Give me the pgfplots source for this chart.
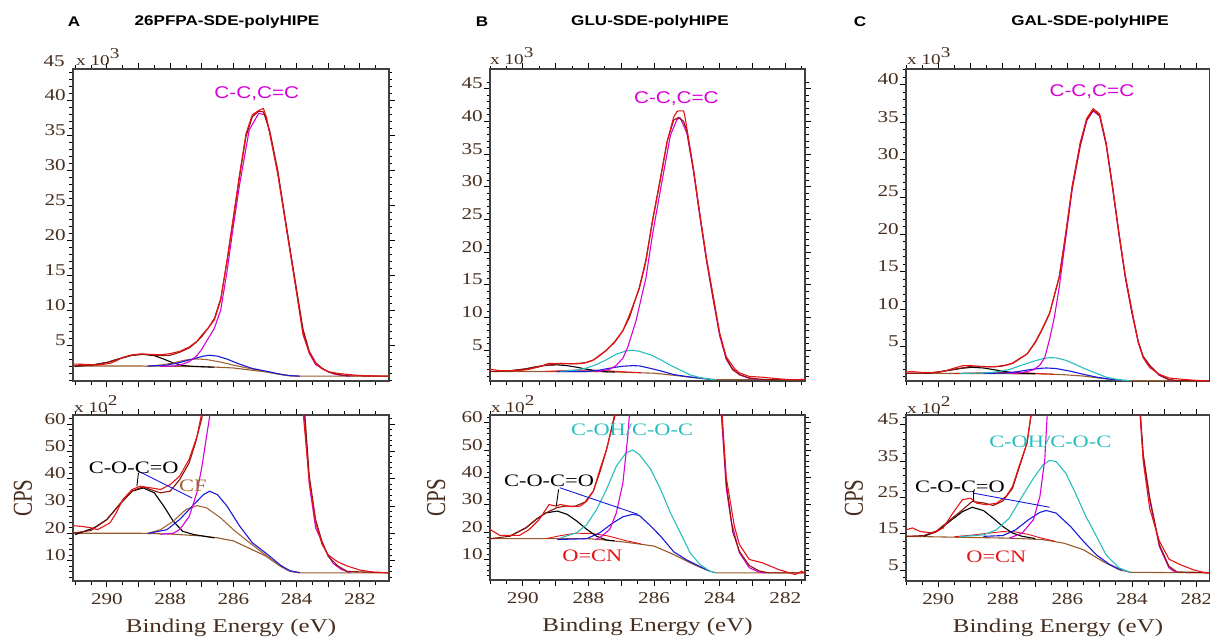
\documentclass[border=0pt]{standalone}
\usepackage{pgfplots}
\usepackage{pgfplotstable}
\pgfplotsset{compat=1.18}
\usepackage{fontspec}
\setmainfont[FakeStretch=1.28]{Liberation Serif}
\newfontfamily\plainserif{Liberation Serif}
\newfontfamily\arial[FakeStretch=1.22]{Liberation Sans}

\definecolor{labc}{RGB}{70,45,30}
\definecolor{rawred}{RGB}{230,20,20}
\definecolor{envred}{RGB}{140,20,10}
\definecolor{mag}{RGB}{215,0,215}
\definecolor{bgbrown}{RGB}{150,90,45}
\definecolor{cfbrown}{RGB}{165,100,55}
\definecolor{cyanc}{RGB}{40,190,190}
\definecolor{bluec}{RGB}{25,25,220}

\newcommand\fs[1]{\fontsize{#1}{#1}\selectfont}

% ---------- panel A (kCPS) ----------
\pgfplotstableread{
E I
291.1 2.00
289.0 2.00
288.0 1.97
287.0 1.90
286.5 1.83
286.0 1.72
285.5 1.45
285.0 1.18
284.5 0.78
284.2 0.60
283.9 0.55
281.0 0.55
}\Abg
\pgfplotstableread{
E I
291.1 2.28
290.8 2.25
290.5 2.20
290.3 2.13
290.1 2.25
289.9 2.38
289.7 2.75
289.5 3.23
289.2 3.60
288.95 3.72
288.6 3.66
288.3 3.60
288.0 3.78
287.7 4.09
287.4 4.70
287.15 5.55
287.0 6.40
286.8 7.40
286.6 8.60
286.4 11.4
286.2 17.1
286.0 23.3
285.8 29.5
285.6 35.2
285.4 37.9
285.2 38.5
285.05 38.8
284.95 37.5
284.85 35.2
284.6 29.5
284.4 23.8
284.2 18.1
284.0 12.4
283.8 6.5
283.6 3.9
283.4 2.4
283.2 1.6
283.0 1.2
282.7 0.95
282.4 0.80
282.0 0.65
281.6 0.58
281.1 0.55
}\Araw
\pgfplotstableread{
E I
291.1 2.00
290.5 2.10
290.0 2.50
289.6 3.05
289.2 3.55
288.85 3.70
288.5 3.55
288.3 3.48
288.0 3.54
287.7 3.96
287.4 4.57
287.2 5.30
287.0 6.20
286.8 7.40
286.6 8.80
286.4 11.6
286.2 17.0
286.0 23.0
285.8 29.2
285.6 34.8
285.4 37.6
285.2 38.4
285.05 38.3
284.85 35.6
284.6 30.0
284.4 24.2
284.2 18.5
284.0 12.9
283.8 7.3
283.6 4.1
283.4 2.5
283.2 1.7
283.0 1.15
282.7 0.80
282.4 0.60
281.1 0.55
}\Aenv
\pgfplotstableread{
E I
288.3 1.96
287.9 2.00
287.7 2.13
287.4 2.60
287.15 3.50
287.0 4.40
286.8 5.90
286.6 7.40
286.4 10.0
286.2 15.5
286.0 22.0
285.8 28.0
285.5 35.7
285.2 38.1
285.0 37.9
284.85 35.3
284.6 29.8
284.4 24.0
284.2 18.3
284.0 12.6
283.8 7.0
283.6 3.8
283.4 2.2
283.05 1.30
282.85 0.90
282.6 0.68
282.3 0.55
}\Acc
\pgfplotstableread{
E I
291.0 1.95
290.4 2.20
290.0 2.50
289.6 3.05
289.2 3.54
288.85 3.66
288.5 3.48
288.2 2.99
287.9 2.44
287.6 2.07
287.25 1.95
286.6 1.83
}\Acoc
\pgfplotstableread{
E I
288.7 1.99
288.1 2.13
287.7 2.50
287.25 3.05
286.95 3.41
286.75 3.54
286.5 3.41
286.2 2.99
285.8 2.26
285.4 1.65
284.95 1.25
284.5 0.82
284.2 0.62
283.9 0.56
}\Ablue
\pgfplotstableread{
E I
288.75 1.98
288.3 2.13
287.9 2.44
287.5 2.87
287.15 3.01
286.85 2.93
286.4 2.56
286.0 2.13
285.55 1.71
285.15 1.35
284.7 0.95
284.3 0.65
284.0 0.56
}\Acf

% ---------- panel B (kCPS) ----------
\pgfplotstableread{
E I
291.0 1.76
288.0 1.76
287.65 1.73
286.85 1.63
286.0 1.49
285.4 1.18
284.8 0.82
284.3 0.57
284.1 0.51
281.0 0.51
}\Bbg
\pgfplotstableread{
E I
291.0 2.10
290.7 1.88
290.1 1.88
289.8 2.10
289.5 2.46
289.2 3.01
289.0 2.95
288.85 3.01
288.55 2.93
288.25 2.95
288.05 3.13
287.85 3.50
287.65 4.29
287.45 5.02
287.2 6.20
286.95 8.00
286.75 10.4
286.45 14.4
286.25 18.5
286.05 24.6
285.8 31.3
285.6 36.9
285.4 40.7
285.3 41.5
285.25 41.6
285.1 41.6
285.05 40.5
285.0 38.9
284.8 32.8
284.6 25.7
284.4 19.0
284.2 13.4
284.0 7.6
283.8 4.0
283.55 2.20
283.4 1.55
283.1 1.00
282.7 0.88
282.2 0.63
281.7 0.45
281.5 0.57
281.4 0.50
}\Braw
\pgfplotstableread{
E I
291.0 1.76
290.4 1.85
289.9 2.16
289.6 2.46
289.3 2.70
288.95 2.90
288.7 2.95
288.4 2.95
288.1 3.10
287.85 3.50
287.65 4.20
287.45 5.00
287.2 6.30
286.95 8.00
286.75 10.0
286.45 14.6
286.25 18.8
286.05 24.8
285.8 31.5
285.6 37.0
285.4 40.2
285.25 40.6
285.1 40.0
285.0 38.5
284.8 32.6
284.6 25.5
284.4 18.8
284.2 13.0
284.0 7.5
283.8 3.8
283.6 2.0
283.4 1.3
283.1 0.78
282.8 0.58
282.5 0.51
281.0 0.51
}\Benv
\pgfplotstableread{
E I
287.8 1.72
287.65 1.80
287.35 2.10
287.15 2.70
286.95 3.80
286.8 5.50
286.55 9.50
286.25 16.0
286.05 22.6
285.8 29.7
285.5 37.9
285.3 40.3
285.2 40.5
285.0 38.2
284.8 32.4
284.6 25.3
284.4 18.6
284.2 12.8
284.0 7.2
283.8 3.6
283.65 2.40
283.4 1.25
283.1 0.70
282.8 0.54
282.6 0.51
}\Bcc
\pgfplotstableread{
E I
290.4 1.85
289.9 2.16
289.6 2.46
289.3 2.70
288.95 2.77
288.65 2.65
288.35 2.40
288.05 2.10
287.75 1.85
287.45 1.71
287.2 1.68
}\Bcoc
\pgfplotstableread{
E I
288.85 1.79
288.35 1.98
288.05 2.28
287.75 2.83
287.45 3.56
287.15 4.41
286.85 4.90
286.65 5.00
286.45 4.84
286.1 4.29
285.8 3.56
285.5 2.70
285.2 1.98
284.9 1.24
284.6 0.82
284.3 0.57
284.1 0.51
}\Bcyan
\pgfplotstableread{
E I
288.95 1.73
288.05 1.76
287.65 1.98
287.25 2.34
286.95 2.56
286.65 2.65
286.45 2.61
286.1 2.22
285.8 1.85
285.4 1.28
285.0 0.98
284.6 0.74
284.3 0.57
}\Bblue
\pgfplotstableread{
E I
289.3 1.76
288.9 1.86
288.4 1.96
287.9 1.95
287.4 1.86
286.9 1.70
286.4 1.57
}\Bocn

% ---------- panel C (kCPS) ----------
\pgfplotstableread{
E I
291.0 1.43
287.8 1.38
286.75 1.34
286.1 1.24
285.5 1.06
284.9 0.74
284.4 0.51
284.05 0.44
281.0 0.42
}\Cbg
\pgfplotstableread{
E I
291.0 1.61
290.8 1.66
290.55 1.56
290.15 1.52
289.85 1.66
289.55 2.07
289.25 2.44
289.0 2.48
288.8 2.34
288.5 2.30
288.2 2.34
287.9 2.53
287.7 2.80
287.5 3.35
287.25 4.00
287.0 5.60
286.8 7.20
286.55 9.50
286.25 14.4
286.05 20.2
285.85 26.5
285.6 32.3
285.4 35.5
285.2 36.8
285.0 36.1
284.8 32.3
284.6 26.5
284.4 20.2
284.2 14.4
284.0 9.9
283.8 5.5
283.65 3.50
283.45 2.20
283.15 1.30
282.85 0.80
282.5 0.65
282.1 0.51
281.7 0.42
281.5 0.42
}\Craw
\pgfplotstableread{
E I
291.0 1.43
290.45 1.45
290.05 1.58
289.65 1.87
289.25 2.16
288.95 2.39
288.6 2.35
288.3 2.28
288.0 2.40
287.7 2.75
287.5 3.30
287.25 4.00
287.0 5.50
286.8 7.10
286.55 9.40
286.25 14.3
286.05 20.0
285.85 26.3
285.6 32.0
285.4 35.3
285.2 36.6
285.0 35.9
284.8 32.1
284.6 26.3
284.4 20.0
284.2 14.2
284.0 9.6
283.8 5.6
283.65 3.70
283.45 2.50
283.15 1.20
282.85 0.60
282.6 0.45
281.0 0.42
}\Cenv
\pgfplotstableread{
E I
287.8 1.38
287.4 1.52
287.05 1.89
286.85 2.53
286.7 3.54
286.55 6.00
286.4 9.00
286.25 13.0
286.05 19.5
285.85 26.0
285.6 31.8
285.4 35.2
285.2 36.5
285.0 35.8
284.8 32.0
284.6 26.2
284.4 19.9
284.2 14.1
284.0 9.5
283.8 5.5
283.65 3.60
283.45 2.44
283.15 1.15
282.85 0.56
282.65 0.44
}\Ccc
\pgfplotstableread{
E I
290.45 1.43
290.05 1.56
289.65 1.84
289.25 2.11
288.95 2.23
288.6 2.14
288.3 1.93
288.0 1.70
287.7 1.52
287.4 1.43
287.0 1.37
}\Ccoc
\pgfplotstableread{
E I
289.35 1.42
288.6 1.47
288.2 1.61
287.8 1.93
287.4 2.53
287.05 3.03
286.75 3.40
286.55 3.52
286.35 3.49
286.05 3.17
285.75 2.62
285.45 2.02
285.1 1.43
284.8 0.92
284.4 0.56
284.05 0.44
}\Ccyan
\pgfplotstableread{
E I
288.6 1.43
288.0 1.45
287.6 1.61
287.2 1.89
286.85 2.09
286.65 2.14
286.35 2.07
285.9 1.70
285.5 1.29
285.1 0.92
284.7 0.66
284.3 0.49
}\Cblue
\pgfplotstableread{
E I
289.5 1.42
289.0 1.46
288.6 1.50
288.0 1.56
287.6 1.55
287.2 1.48
286.8 1.38
286.4 1.30
}\Cocn

\pgfplotsset{
  xps/.style={
    scale only axis, x dir=reverse, clip=true,
    axis line style={draw=black!75, line width=1.3pt},
    tick align=outside, major tick length=6pt, minor tick length=3.5pt,
    tick style={black, line width=0.8pt},
    xtick={282,...,290},
    minor xtick={281,281.5,...,291},
    /pgf/number format/assume math mode=true,
    tick label style={font=\fs{16.5}, text=labc},
    yticklabel style={anchor=base east, inner sep=1pt},
    xticklabel style={yshift=-3pt},
    every axis plot/.append style={line width=1.1pt, no marks},
  },
  toppanel/.style={xps, height=312pt, xticklabels={},
    ytick={5,10,...,45}, minor ytick={0,1,...,46}},
  botpanel/.style={xps, xticklabels={282,,284,,286,,288,,290},
    ylabel={\scalebox{1}[1.3]{CPS}}, xlabel={Binding Energy (eV)},
    ylabel style={font=\plainserif\fs{21}, text=labc},
    xlabel style={font=\fs{19.5}, text=labc, anchor=center}},
}

\begin{document}
\begin{tikzpicture}
\useasboundingbox (0pt,0pt) rectangle (1210pt,-639pt);

% ===== A top =====
\begin{axis}[toppanel, name=aT, at={(73pt,-381pt)}, anchor=south west, width=316pt,
  xmin=281.08, xmax=291.07, ymin=-0.14, ymax=44.43, ytick={5,10,...,40}]
\addplot[bgbrown] table {\Abg};
\addplot[black] table {\Acoc};
\addplot[cfbrown] table {\Acf};
\addplot[bluec] table {\Ablue};
\addplot[mag] table {\Acc};
\addplot[envred] table {\Aenv};
\addplot[rawred] table {\Araw};
\node[text=mag, font=\arial\fs{17}] at (axis cs:285.26,40.9) {C-C,C=C};
\end{axis}

% ===== A bottom =====
\begin{axis}[botpanel, name=aB, at={(73pt,-581pt)}, anchor=south west, width=316pt, height=166pt,
  xmin=281.08, xmax=291.07, ymin=2.5, ymax=63.3, ytick={10,20,...,60}, minor ytick={2,4,...,62},
  ylabel style={at={(axis description cs:-0.158,0.5)}, anchor=center},
  xlabel style={at={(axis description cs:0.5,-0.283)}}]
\addplot[bgbrown] table[x index=0, y expr=\thisrowno{1}*10] {\Abg};
\addplot[black] table[x index=0, y expr=\thisrowno{1}*10] {\Acoc};
\addplot[cfbrown] table[x index=0, y expr=\thisrowno{1}*10] {\Acf};
\addplot[bluec] table[x index=0, y expr=\thisrowno{1}*10] {\Ablue};
\addplot[mag] table[x index=0, y expr=\thisrowno{1}*10] {\Acc};
\addplot[envred] table[x index=0, y expr=\thisrowno{1}*10] {\Aenv};
\addplot[rawred] table[x index=0, y expr=\thisrowno{1}*10] {\Araw};
\draw[bluec, line width=0.9pt] (axis cs:289.0,42.7) -- (axis cs:287.3,32.9);
\draw[black, line width=0.9pt] (axis cs:289.0,42.1) -- (axis cs:289.05,37.2);
\node[font=\fs{17.5}] at (axis cs:289.15,43.9) {C-O-C=O};
\node[text=cfbrown, font=\fs{17.5}] at (axis cs:287.28,37.4) {CF};
\end{axis}

% ===== B top =====
\begin{axis}[toppanel, name=bT, at={(490pt,-381pt)}, anchor=south west, width=315pt,
  xmin=281.4, xmax=291.0, ymin=0.3, ymax=48]
\addplot[bgbrown] table {\Bbg};
\addplot[rawred, line width=0.9pt] table {\Bocn};
\addplot[black] table {\Bcoc};
\addplot[bluec] table {\Bblue};
\addplot[cyanc] table {\Bcyan};
\addplot[mag] table {\Bcc};
\addplot[envred] table {\Benv};
\addplot[rawred] table {\Braw};
\node[text=mag, font=\arial\fs{17}] at (axis cs:285.32,43.5) {C-C,C=C};
\end{axis}

% ===== B bottom =====
\begin{axis}[botpanel, name=bB, at={(490pt,-580pt)}, anchor=south west, width=315pt, height=165pt,
  xmin=281.4, xmax=291.0, ymin=2.5, ymax=62.8, ytick={10,20,...,60}, minor ytick={2,4,...,62},
  ylabel style={at={(axis description cs:-0.171,0.5)}, anchor=center},
  xlabel style={at={(axis description cs:0.5,-0.285)}}]
\addplot[bgbrown] table[x index=0, y expr=\thisrowno{1}*10] {\Bbg};
\addplot[rawred, line width=0.9pt] table[x index=0, y expr=\thisrowno{1}*10] {\Bocn};
\addplot[black] table[x index=0, y expr=\thisrowno{1}*10] {\Bcoc};
\addplot[bluec] table[x index=0, y expr=\thisrowno{1}*10] {\Bblue};
\addplot[cyanc] table[x index=0, y expr=\thisrowno{1}*10] {\Bcyan};
\addplot[mag] table[x index=0, y expr=\thisrowno{1}*10] {\Bcc};
\addplot[envred] table[x index=0, y expr=\thisrowno{1}*10] {\Benv};
\addplot[rawred] table[x index=0, y expr=\thisrowno{1}*10] {\Braw};
\draw[bluec, line width=0.9pt] (axis cs:288.87,36.2) -- (axis cs:286.49,26.5);
\draw[black, line width=0.9pt] (axis cs:288.91,35.6) -- (axis cs:288.98,29.5);
\node[text=cyanc, font=\fs{17.5}] at (axis cs:286.67,57.3) {C-OH/C-O-C};
\node[font=\fs{17.5}] at (axis cs:289.2,38.7) {C-O-C=O};
\node[text=rawred, font=\fs{17.5}] at (axis cs:287.88,11.2) {O=CN};
\end{axis}

% ===== C top =====
\begin{axis}[toppanel, name=cT, at={(906pt,-381pt)}, anchor=south west, width=304pt,
  xmin=281.58, xmax=291.0, ymin=0.4, ymax=42.1, ytick={5,10,...,40}]
\addplot[bgbrown] table {\Cbg};
\addplot[rawred, line width=0.9pt] table {\Cocn};
\addplot[black] table {\Ccoc};
\addplot[bluec] table {\Cblue};
\addplot[cyanc] table {\Ccyan};
\addplot[mag] table {\Ccc};
\addplot[envred] table {\Cenv};
\addplot[rawred] table {\Craw};
\node[text=mag, font=\arial\fs{17}] at (axis cs:285.24,39.1) {C-C,C=C};
\end{axis}

% ===== C bottom =====
\begin{axis}[botpanel, name=cB, at={(906pt,-581pt)}, anchor=south west, width=304pt, height=166pt,
  xmin=281.58, xmax=291.0, ymin=2.0, ymax=47.7, ytick={5,15,...,45}, minor ytick={1,3,...,47},
  ylabel style={at={(axis description cs:-0.171,0.5)}, anchor=center},
  xlabel style={at={(axis description cs:0.5,-0.283)}}]
\addplot[bgbrown] table[x index=0, y expr=\thisrowno{1}*10] {\Cbg};
\addplot[rawred, line width=0.9pt] table[x index=0, y expr=\thisrowno{1}*10] {\Cocn};
\addplot[black] table[x index=0, y expr=\thisrowno{1}*10] {\Ccoc};
\addplot[bluec] table[x index=0, y expr=\thisrowno{1}*10] {\Cblue};
\addplot[cyanc] table[x index=0, y expr=\thisrowno{1}*10] {\Ccyan};
\addplot[mag] table[x index=0, y expr=\thisrowno{1}*10] {\Ccc};
\addplot[envred] table[x index=0, y expr=\thisrowno{1}*10] {\Cenv};
\addplot[rawred] table[x index=0, y expr=\thisrowno{1}*10] {\Craw};
\draw[bluec, line width=0.9pt] (axis cs:288.92,26.2) -- (axis cs:286.55,22.3);
\draw[black, line width=0.9pt] (axis cs:288.92,26.7) -- (axis cs:288.92,23.9);
\node[text=cyanc, font=\fs{17.5}] at (axis cs:286.53,40.4) {C-OH/C-O-C};
\node[font=\fs{17.5}] at (axis cs:289.33,28.0) {C-O-C=O};
\node[text=rawred, font=\fs{17.5}] at (axis cs:288.2,8.8) {O=CN};
\end{axis}

% ----- scale factors and the 45 label above frame A -----
\node[anchor=base east, font=\fs{16.5}, text=labc, inner sep=0pt]
  at ([xshift=-8pt,yshift=2pt]aT.north west) {45};
\foreach \ax/\dx/\dy in {aT/3pt/3pt, bT/0pt/4pt, cT/1pt/4pt} {
  \node[anchor=base west, font=\fs{15}, text=labc, inner sep=0pt]
    at ([xshift=\dx,yshift=\dy]\ax.north west) {x 10\raisebox{7pt}{\fs{15}3}};
}
\foreach \ax in {aB,bB,cB} {
  \node[anchor=base west, font=\fs{15}, text=labc, inner sep=0pt]
    at ([xshift=1pt,yshift=2pt]\ax.north west) {x 10\raisebox{7pt}{\fs{15}2}};
}

% ----- panel titles -----
\begin{scope}[every node/.style={font=\arial\bfseries\fs{14}}]
\node at (74pt,-22pt) {A};
\node at (227pt,-22pt) {26PFPA-SDE-polyHIPE};
\node at (482pt,-22pt) {B};
\node at (650pt,-22pt) {GLU-SDE-polyHIPE};
\node at (860pt,-22pt) {C};
\node at (1090pt,-22pt) {GAL-SDE-polyHIPE};
\end{scope}
\end{tikzpicture}
\end{document}
